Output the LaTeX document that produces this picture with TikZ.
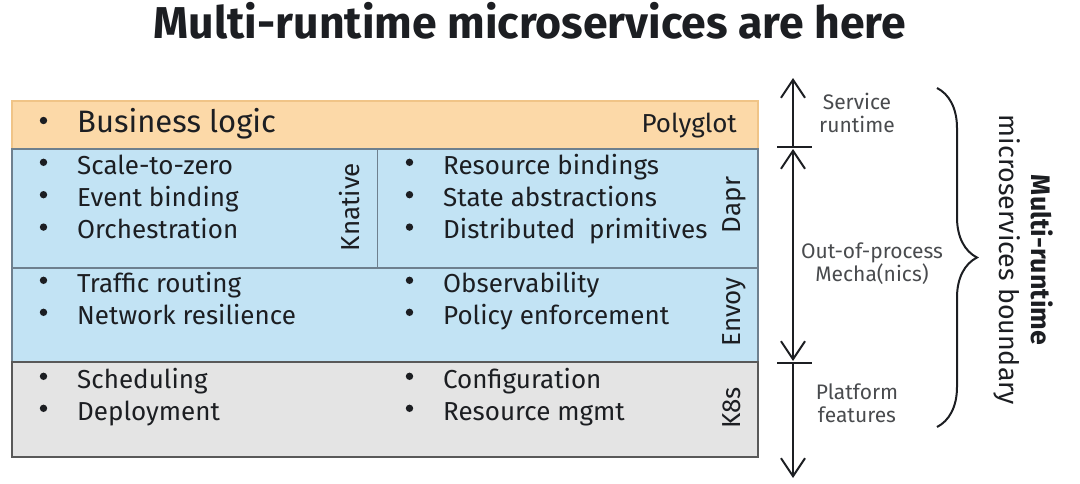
\documentclass[tikz,border=0pt]{standalone}
\usepackage{fontspec}
\setmainfont{Fira Sans}
\usetikzlibrary{arrows.meta,positioning,decorations.pathreplacing}
\definecolor{biz}{RGB}{252,217,168}
\definecolor{bizline}{RGB}{240,196,135}
\definecolor{mech}{RGB}{194,227,244}
\definecolor{mechline}{RGB}{110,128,142}
\definecolor{plat}{RGB}{228,228,228}
\definecolor{ink}{RGB}{28,30,34}
\newcommand{\bul}[1][8pt]{\llap{\raisebox{#1}{\tikz\fill[ink] (0,0) circle (3.7pt);}\hspace{30pt}}}
\begin{document}
\begin{tikzpicture}[x=1pt,y=-1pt,>={Straight Barb[length=18pt,width=24pt]},font=\fontsize{26}{30}\selectfont]
\tikzset{layer/.style={draw=mechline,line width=1.5pt,minimum width=746pt,inner sep=0pt,anchor=north west},
  item/.style={anchor=base west,text=ink,inner sep=0pt},
  tool/.style={rotate=90,anchor=base,text=ink,inner sep=0pt},
  side/.style={align=center,font=\fontsize{21}{23}\selectfont,text=ink!80},
  span/.style={line width=2pt,draw=ink}}
\useasboundingbox (0,0) rectangle (1080,483);
\node[font=\bfseries\fontsize{44.6}{50}\selectfont,anchor=base,text=ink] (title) at (530,38) {Multi-runtime microservices are here};
% layers of the stack
\node[layer,fill=biz,draw=bizline,minimum height=48pt] (biz) at (11,100) {};
\node[layer,fill=mech,minimum height=119pt] (rt) at (11,148) {};
\node[layer,fill=mech,minimum height=94pt] (net) at (11,267) {};
\node[layer,fill=plat,draw=gray!70!black,minimum height=95pt] (plat) at (11,361) {};
\coordinate (split) at (377,148);
\draw[draw=mechline,line width=1pt] (split) -- (split |- rt.south);
% contents
\node[item,font=\fontsize{31}{34}\selectfont] (bl) at (77,132) {\bul[7.8pt]Business logic};
\node[item,anchor=base east] (poly) at (737,132) {Polyglot};
\foreach \t [count=\i] in {Scale-to-zero,Event binding,Orchestration}
  \node[item] (kn\i) at (77,{174+32.4*(\i-1)}) {\bul\t};
\foreach \t [count=\i] in {Resource bindings,State abstractions,Distributed\ \ primitives}
  \node[item] (da\i) at (443,{174+32.4*(\i-1)}) {\bul\t};
\foreach \t [count=\i] in {Traffic routing,Network resilience}
  \node[item] (en\i) at (77,{292+32*(\i-1)}) {\bul\t};
\foreach \t [count=\i] in {Observability,Policy enforcement}
  \node[item] (eo\i) at (443,{292+32*(\i-1)}) {\bul\t};
\foreach \t [count=\i] in {Scheduling,Deployment}
  \node[item] (ks\i) at (77,{388+32*(\i-1)}) {\bul\t};
\foreach \t [count=\i] in {Configuration,Resource mgmt}
  \node[item] (kc\i) at (443,{388+32*(\i-1)}) {\bul\t};
\node[tool] (knative) at (359,207) {Knative};
\node[tool] (dapr) at (740,205) {Dapr};
\node[tool] (envoy) at (740,312) {Envoy};
\node[tool] (k8s) at (740,408) {K8s};
% runtime spans
\coordinate (top) at (793,78);\coordinate (t1) at (793,147);\coordinate (t2) at (793,363);\coordinate (bot) at (793,478);
\draw[span,->] (t1) -- (top);\draw[span,<->,shorten <=2pt,shorten >=2pt] (t1) -- (t2);\draw[span,->] (t2) -- (bot);
\draw[span] (t1) ++(-16,0) -- ++(35,0);\draw[span] (t2) ++(-16,0) -- ++(35,0);
\node[side] (svc) at (857,113) {Service\\runtime};
\node[side] (oop) at (872,264) {Out-of-process\\Mecha(nics)};
\node[side] (pf) at (857,403) {Platform\\features};
\draw[span,decorate,decoration={brace,amplitude=40pt}] (937,88) -- (937,427);
\node[rotate=-90,align=center,text=ink,font=\fontsize{26.8}{32}\selectfont] (bound) at (1024,260) {\bfseries Multi-runtime\\microservices boundary};
\end{tikzpicture}
\end{document}
